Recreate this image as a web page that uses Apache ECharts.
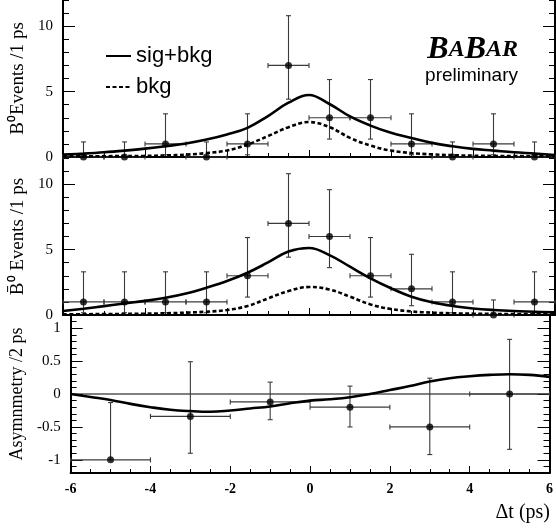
<!DOCTYPE html>
<html>
<head>
<meta charset="utf-8">
<script src="https://cdn.jsdelivr.net/npm/echarts@6/dist/echarts.min.js"></script>
<style>
  html, body { margin: 0; padding: 0; background: #fff; }
  #chart { width: 556px; height: 529px; }
</style>
</head>
<body>
<div id="chart"></div>
<script>
// Delta-t bins (1 ps wide) for the B0 / B0bar event counts
const binCenters = [-5.5, -4.5, -3.5, -2.5, -1.5, -0.5, 0.5, 1.5, 2.5, 3.5, 4.5, 5.5];
const binHalfWidth = 0.5;

// B0-tagged events with asymmetric (Poisson) error bounds
const b0Counts = [0, 0, 1, 0, 1, 7, 3, 3, 1, 0, 1, 0];
const b0Low    = [0, 0, 0.17, 0, 0.17, 4.42, 1.37, 1.37, 0.17, 0, 0.17, 0];
const b0High   = [1.15, 1.15, 3.3, 1.15, 3.3, 10.8, 5.92, 5.92, 3.3, 1.15, 3.3, 1.15];

// B0bar-tagged events
const b0barCounts = [1, 1, 1, 1, 3, 7, 6, 3, 2, 1, 0, 1];
const b0barLow    = [0.17, 0.17, 0.17, 0.17, 1.37, 4.42, 3.62, 1.37, 0.71, 0.17, 0, 0.17];
const b0barHigh   = [3.3, 3.3, 3.3, 3.3, 5.92, 10.8, 9.58, 5.92, 4.64, 3.3, 1.15, 3.3];

// Asymmetry in 2 ps bins
const asymCenters   = [-5, -3, -1, 1, 3, 5];
const asymHalfWidth = 1;
const asymValues = [-1.0, -0.34, -0.12, -0.2, -0.5, 0.0];
const asymLow    = [-1.0, -0.9, -0.39, -0.5, -0.92, -0.84];
const asymHigh   = [-0.13, 0.49, 0.18, 0.12, 0.24, 0.83];

// Fit curves sampled along Delta t
const fitT = [-6, -5.5, -5, -4.5, -4, -3.5, -3, -2.5, -2, -1.5, -1, -0.5, 0,
              0.5, 1, 1.5, 2, 2.5, 3, 3.5, 4, 4.5, 5, 5.5, 6];
const b0SigBkg = [0.18, 0.26, 0.36, 0.49, 0.64, 0.82, 1.03, 1.33, 1.72, 2.23, 3.13, 4.15, 4.74,
                  4.05, 3.1, 2.4, 1.85, 1.46, 1.08, 0.82, 0.62, 0.49, 0.36, 0.26, 0.15];
const b0Bkg    = [0.05, 0.05, 0.06, 0.07, 0.08, 0.12, 0.18, 0.3, 0.5, 0.95, 1.6, 2.28, 2.67,
                  2.28, 1.46, 0.87, 0.49, 0.3, 0.2, 0.14, 0.1, 0.08, 0.07, 0.06, 0.05];
const b0barSigBkg = [0.3, 0.48, 0.68, 0.88, 1.08, 1.32, 1.65, 2.09, 2.6, 3.23, 4.02, 4.85, 5.12,
                     4.58, 3.69, 2.8, 2.04, 1.4, 0.97, 0.69, 0.5, 0.38, 0.3, 0.25, 0.2];
const b0barBkg    = [0.05, 0.06, 0.07, 0.08, 0.1, 0.13, 0.18, 0.25, 0.38, 0.69, 1.27, 1.83, 2.14,
                     1.95, 1.4, 0.81, 0.46, 0.27, 0.18, 0.13, 0.1, 0.08, 0.07, 0.06, 0.05];
const asymFit = [0, -0.045, -0.09, -0.15, -0.2, -0.24, -0.26, -0.27, -0.25, -0.22, -0.19, -0.14, -0.1,
                 -0.08, -0.05, 0.0, 0.06, 0.12, 0.19, 0.24, 0.27, 0.29, 0.3, 0.29, 0.26];

// Axis tick labels
const eventTickLabels = [0, 5, 10];
const asymTickLabels  = [-1, -0.5, 0, 0.5, 1];

const serif = 'Liberation Serif';
const sans = 'Liberation Sans';

const pair = (xs, ys) => xs.map((x, i) => [x, ys[i]]);
const barItems = (xs, ys, lo, hi, hw) => xs.map((x, i) => [x, ys[i], lo[i], hi[i], hw]);

// Draws vertical and horizontal error bars with small end caps
function renderErrorBar(params, api) {
  const x = api.value(0), y = api.value(1), lo = api.value(2), hi = api.value(3), hw = api.value(4);
  const pHi = api.coord([x, hi]);
  const pLo = api.coord([x, lo]);
  const pL = api.coord([x - hw, y]);
  const pR = api.coord([x + hw, y]);
  const style = { stroke: '#3a3a3a', lineWidth: 1.1, fill: null };
  const cap = 2.5;
  const kids = [
    { type: 'line', shape: { x1: pLo[0], y1: pLo[1], x2: pHi[0], y2: pHi[1] }, style },
    { type: 'line', shape: { x1: pL[0], y1: pL[1], x2: pR[0], y2: pR[1] }, style },
    { type: 'line', shape: { x1: pL[0], y1: pL[1] - cap, x2: pL[0], y2: pL[1] + cap }, style },
    { type: 'line', shape: { x1: pR[0], y1: pR[1] - cap, x2: pR[0], y2: pR[1] + cap }, style }
  ];
  if (hi > y) kids.push({ type: 'line', shape: { x1: pHi[0] - cap, y1: pHi[1], x2: pHi[0] + cap, y2: pHi[1] }, style });
  if (lo < y) kids.push({ type: 'line', shape: { x1: pLo[0] - cap, y1: pLo[1], x2: pLo[0] + cap, y2: pLo[1] }, style });
  return { type: 'group', children: kids };
}

const grids = [
  { left: 63, right: 1, top: 0, height: 157 },
  { left: 63, right: 1, top: 158, height: 157 },
  { left: 63, right: 1, top: 315, height: 158 }
];

const axisLine = { show: true, onZero: false, lineStyle: { color: '#000', width: 2 } };
const hiddenLine = { show: false, onZero: false };

function xAxisFor(g) {
  return {
    type: 'value', gridIndex: g, min: -6, max: 6, interval: 2, position: 'bottom',
    axisLine,
    axisTick: { show: true, inside: true, length: 7, lineStyle: { color: '#000', width: 1 } },
    minorTick: { show: true, splitNumber: 4, length: 4, lineStyle: { color: '#000', width: 1 } },
    splitLine: { show: false }, minorSplitLine: { show: false },
    axisLabel: g === 2
      ? { show: true, margin: 9, fontFamily: serif, fontWeight: 'bold', fontSize: 14, color: '#000' }
      : { show: false }
  };
}

// Each panel gets a labelled major-tick axis plus a minor-tick axis, on both sides
function yAxesFor(g, min, max, majors, minorStep, name, nameSize) {
  const common = { type: 'value', gridIndex: g, min, max, splitLine: { show: false } };
  return [
    Object.assign({}, common, {
      position: 'left', axisLine,
      axisTick: { show: true, inside: true, length: 12, customValues: majors, lineStyle: { color: '#000', width: 1 } },
      axisLabel: { show: true, customValues: majors, margin: 10, fontFamily: serif, fontSize: 15, color: '#000' },
      name, nameLocation: 'middle', nameRotate: 90, nameGap: 34,
      nameTextStyle: { fontFamily: serif, fontSize: nameSize, color: '#000' }
    }),
    Object.assign({}, common, {
      position: 'left', interval: minorStep, axisLine: hiddenLine,
      axisTick: { show: true, inside: true, length: 6, lineStyle: { color: '#000', width: 1 } },
      axisLabel: { show: false }
    }),
    Object.assign({}, common, {
      position: 'right', axisLine,
      axisTick: { show: true, inside: true, length: 12, customValues: majors, lineStyle: { color: '#000', width: 1 } },
      axisLabel: { show: false }
    }),
    Object.assign({}, common, {
      position: 'right', interval: minorStep, axisLine: hiddenLine,
      axisTick: { show: true, inside: true, length: 6, lineStyle: { color: '#000', width: 1 } },
      axisLabel: { show: false }
    })
  ];
}

const yAxes = [].concat(
  yAxesFor(0, 0, 12, eventTickLabels, 1, 'B\u2070Events /1 ps', 19),
  yAxesFor(1, 0, 12, eventTickLabels, 1, 'B\u0304\u2070 Events /1 ps', 19),
  yAxesFor(2, -1.2, 1.2, asymTickLabels, 0.1, 'Asymnmetry /2 ps', 18)
);

function fitLine(name, g, data, dashed) {
  return {
    type: 'line', name, xAxisIndex: g, yAxisIndex: 4 * g, data,
    symbol: 'none', smooth: 0.4, silent: true, z: 3,
    color: '#000', itemStyle: { color: '#000' },
    lineStyle: dashed
      ? { color: '#000', width: 2.6, type: [4, 2.5] }
      : { color: '#000', width: 2.6, type: 'solid' }
  };
}

function errorSeries(g, items) {
  return {
    type: 'custom', xAxisIndex: g, yAxisIndex: 4 * g, data: items,
    renderItem: renderErrorBar, silent: true, z: 2,
    encode: { x: 0, y: 1 }
  };
}

function dotSeries(g, data) {
  return {
    type: 'scatter', xAxisIndex: g, yAxisIndex: 4 * g, data,
    symbol: 'circle', symbolSize: 7, itemStyle: { color: '#000' }, silent: true, z: 4
  };
}

const option = {
  animation: false,
  backgroundColor: '#fff',
  grid: grids,
  xAxis: [xAxisFor(0), xAxisFor(1), xAxisFor(2)],
  yAxis: yAxes,
  legend: {
    data: ['sig+bkg', 'bkg'], orient: 'vertical', left: 105, top: 45,
    itemWidth: 25, itemHeight: 10, itemGap: 9, padding: 0, selectedMode: false,
    itemStyle: { opacity: 0 },
    textStyle: { fontFamily: sans, fontSize: 22, color: '#000', lineHeight: 22 }
  },
  graphic: [
    {
      type: 'text', x: 518, y: 50, silent: true,
      style: {
        text: '{b|B}{s|A}{b|B}{s|AR}', align: 'right', verticalAlign: 'middle',
        rich: {
          b: { fontFamily: serif, fontStyle: 'italic', fontWeight: 'bold', fontSize: 32, fill: '#000' },
          s: { fontFamily: serif, fontStyle: 'italic', fontWeight: 'bold', fontSize: 24, fill: '#000' }
        }
      }
    },
    {
      type: 'text', x: 518, y: 76, silent: true,
      style: { text: 'preliminary', align: 'right', verticalAlign: 'middle', fontFamily: sans, fontSize: 19, fill: '#000' }
    },
    {
      type: 'text', x: 550, y: 513, silent: true,
      style: { text: '\u0394t (ps)', align: 'right', verticalAlign: 'middle', fontFamily: serif, fontSize: 20, fill: '#000' }
    }
  ],
  series: [
    fitLine('sig+bkg', 0, pair(fitT, b0SigBkg), false),
    fitLine('bkg', 0, pair(fitT, b0Bkg), true),
    errorSeries(0, barItems(binCenters, b0Counts, b0Low, b0High, binHalfWidth)),
    dotSeries(0, pair(binCenters, b0Counts)),

    fitLine('sig+bkg', 1, pair(fitT, b0barSigBkg), false),
    fitLine('bkg', 1, pair(fitT, b0barBkg), true),
    errorSeries(1, barItems(binCenters, b0barCounts, b0barLow, b0barHigh, binHalfWidth)),
    dotSeries(1, pair(binCenters, b0barCounts)),

    {
      type: 'line', xAxisIndex: 2, yAxisIndex: 8, data: [[-6, 0], [6, 0]],
      symbol: 'none', silent: true, z: 1, lineStyle: { color: '#000', width: 1 }
    },
    fitLine('asym', 2, pair(fitT, asymFit), false),
    errorSeries(2, barItems(asymCenters, asymValues, asymLow, asymHigh, asymHalfWidth)),
    dotSeries(2, pair(asymCenters, asymValues))
  ]
};

echarts.init(document.getElementById('chart'), null, { renderer: 'canvas' }).setOption(option);
</script>
</body>
</html>
